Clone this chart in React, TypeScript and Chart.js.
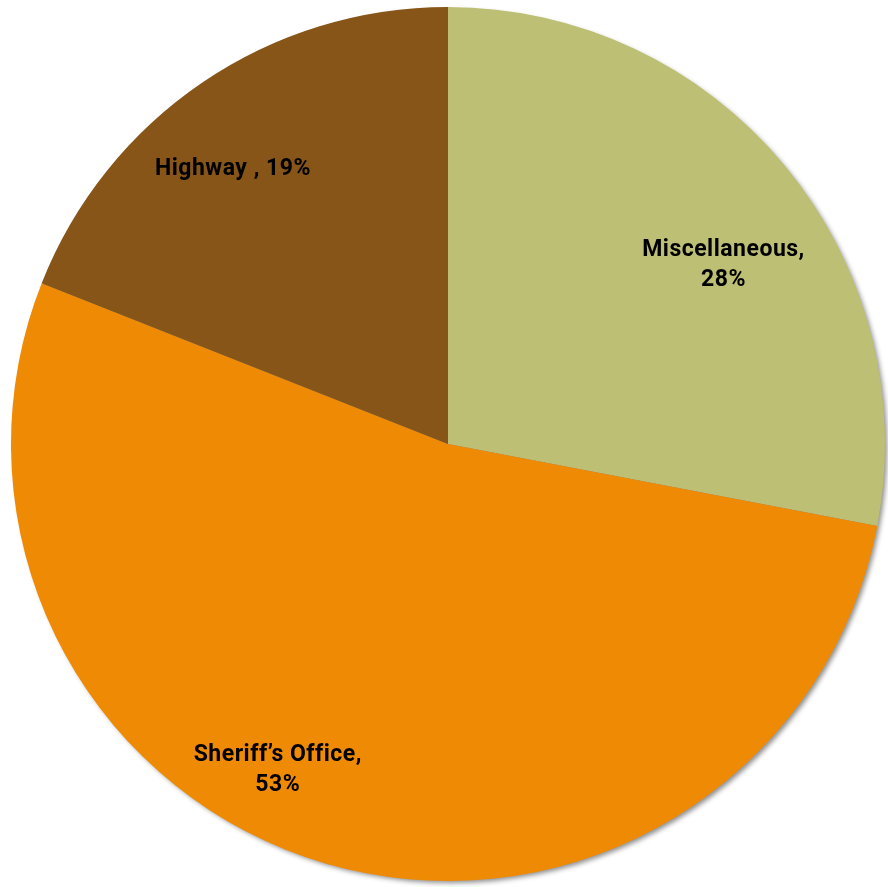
import React, { useEffect, useRef } from "react";
import { Chart, registerables } from "chart.js";

Chart.register(...registerables);

const categories = ["Miscellaneous", "Sheriff\u2019s Office", "Highway"];
const values = [28, 53, 19];
const labelLines = [["Miscellaneous,", "28%"], ["Sheriff\u2019s Office,", "53%"], ["Highway , 19%"]];
const colors = ["#BDBF75", "#EF8A05", "#865517"];

// label placement: [angle offset in degrees from slice mid-angle, radius fraction]
const labelPlacement: [number, number][] = [
  [6.2, 0.755],
  [11.6, 0.835],
  [-3.6, 0.803],
];

const shadowPlugin = {
  id: "pieShadow",
  beforeDatasetsDraw(chart: any) {
    const meta = chart.getDatasetMeta(0);
    const arc = meta.data[0];
    if (!arc) return;
    const { x, y, outerRadius } = arc.getProps(["x", "y", "outerRadius"], true);
    const ctx = chart.ctx;
    ctx.save();
    ctx.shadowColor = "rgba(0,0,0,0.45)";
    ctx.shadowBlur = 5;
    ctx.shadowOffsetX = 3;
    ctx.shadowOffsetY = 3;
    ctx.beginPath();
    ctx.arc(x, y, outerRadius - 1, 0, Math.PI * 2);
    ctx.fillStyle = "#888";
    ctx.fill();
    ctx.restore();
  },
};

const labelPlugin = {
  id: "pieLabels",
  afterDatasetsDraw(chart: any) {
    const meta = chart.getDatasetMeta(0);
    const ctx = chart.ctx;
    ctx.save();
    ctx.fillStyle = "#000";
    ctx.font = "bold 23px Roboto, 'DejaVu Sans', sans-serif";
    try {
      (ctx as any).letterSpacing = "0.5px";
    } catch (e) {}
    ctx.textAlign = "center";
    ctx.textBaseline = "middle";
    meta.data.forEach((arc: any, i: number) => {
      const { x, y, startAngle, endAngle, outerRadius } = arc.getProps(
        ["x", "y", "startAngle", "endAngle", "outerRadius"],
        true
      );
      const [dAng, frac] = labelPlacement[i];
      const mid = (startAngle + endAngle) / 2 + (dAng * Math.PI) / 180;
      const r = outerRadius * frac;
      const cx = x + Math.cos(mid) * r;
      const cy = y + Math.sin(mid) * r + 3;
      const lines = labelLines[i];
      const lh = 30;
      lines.forEach((ln, j) => {
        ctx.fillText(ln, cx, cy + (j - (lines.length - 1) / 2) * lh);
      });
    });
    ctx.restore();
  },
};

export default function App() {
  const ref = useRef<HTMLCanvasElement>(null);
  useEffect(() => {
    if (!ref.current) return;
    const chart = new Chart(ref.current, {
      type: "pie",
      data: {
        labels: categories,
        datasets: [
          {
            data: values,
            backgroundColor: colors,
            borderWidth: 0,
          },
        ],
      },
      options: {
        responsive: false,
        animation: false,
        layout: { padding: { left: 11, right: 3, top: 7, bottom: 6 } },
        plugins: {
          legend: { display: false },
          tooltip: { enabled: false },
        },
      },
      plugins: [shadowPlugin, labelPlugin],
    });
    return () => chart.destroy();
  }, []);
  return (
    <div style={{ position: "absolute", left: 0, top: 0, width: 888, height: 887, background: "#fff" }}>
      <canvas ref={ref} width={888} height={887} style={{ width: 888, height: 887 }} />
    </div>
  );
}
